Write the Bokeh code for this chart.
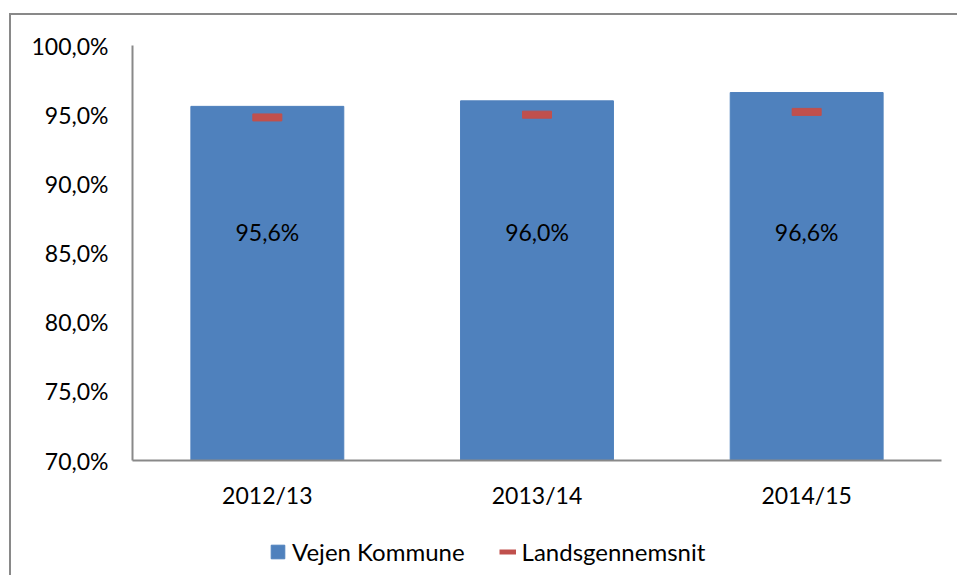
from bokeh.plotting import figure
from bokeh.layouts import column
from bokeh.models import (FactorRange, Range1d, Legend, LegendItem, FixedTicker,
                          ColumnDataSource)
from bokeh.core.properties import value
from bokeh.embed import file_html
from bokeh.resources import INLINE

# ---- data ----
categories = ["2012/13", "2013/14", "2014/15"]
vejen = [95.6, 96.0, 96.6]
lands = [94.8, 95.0, 95.2]
value_labels = ["95,6%", "96,0%", "96,6%"]
y_ticks = [70, 75, 80, 85, 90, 95, 100]
y_tick_labels = ["70,0%", "75,0%", "80,0%", "85,0%", "90,0%", "95,0%", "100,0%"]
series_names = ["Vejen Kommune", "Landsgennemsnit"]

FONT = "Lato"
BLUE = "#4F81BD"
RED = "#C0504D"
GRAY = "#898989"
LABEL_Y = 86.5
W = 946

src = ColumnDataSource(dict(cat=categories, vejen=vejen, lands=lands,
                            lab=value_labels, ly=[LABEL_Y] * len(categories)))

p = figure(x_range=FactorRange(*categories), y_range=Range1d(70, 100),
           width=W, height=510, output_backend="svg", toolbar_location=None,
           min_border_left=121, min_border_right=16, min_border_top=30,
           min_border_bottom=65)

p.vbar(x="cat", top="vejen", bottom=70, width=0.567, source=src,
       fill_color=BLUE, line_color=BLUE)
p.rect(x="cat", y="lands", width=29, height=7, width_units="screen",
       height_units="screen", source=src, fill_color=RED, line_color=RED)
p.text(x="cat", y="ly", text="lab", source=src, text_align="center",
       text_baseline="middle", text_font=value(FONT), text_font_size="23px",
       text_color="black")

p.outline_line_color = None
p.xgrid.grid_line_color = None
p.ygrid.grid_line_color = None

p.yaxis.ticker = FixedTicker(ticks=y_ticks)
p.yaxis.major_label_overrides = {t: l for t, l in zip(y_ticks, y_tick_labels)}
for ax in (p.xaxis, p.yaxis):
    ax.axis_line_color = GRAY
    ax.axis_line_width = 2
    ax.major_tick_line_color = None
    ax.minor_tick_line_color = None
    ax.major_tick_out = 0
    ax.major_tick_in = 0
    ax.major_label_text_font = FONT
    ax.major_label_text_font_size = "23px"
    ax.major_label_text_color = "black"
p.yaxis.major_label_standoff = 24
p.xaxis.major_label_standoff = 20

# ---- legend strip ----
lp = figure(width=W, height=50, x_range=Range1d(0, 1), y_range=Range1d(0, 1),
            output_backend="svg", toolbar_location=None,
            x_axis_location=None, y_axis_location=None,
            min_border=0, min_border_left=0, min_border_right=0,
            min_border_top=0, min_border_bottom=0)
lp.outline_line_color = None
lp.xgrid.grid_line_color = None
lp.ygrid.grid_line_color = None
nan = float("nan")
bar_proxy = lp.vbar(x=[0.5], top=[nan], width=0.1, fill_color=BLUE, line_color=BLUE)
dash_proxy = lp.line(x=[0.5], y=[nan], line_color=RED, line_width=5)
legend = Legend(items=[LegendItem(label=series_names[0], renderers=[bar_proxy]),
                       LegendItem(label=series_names[1], renderers=[dash_proxy])],
                orientation="horizontal", location=(137, 9),
                label_text_font=FONT, label_text_font_size="24px",
                label_text_color="black",
                glyph_width=17, glyph_height=17, label_standoff=6, spacing=34,
                border_line_color=None, background_fill_alpha=0, margin=0,
                padding=4)
lp.add_layout(legend, "center")

layout = column(p, lp, spacing=0)
layout.margin = (13, 0, 0, 9)
layout.styles = {"border-left": f"2px solid {GRAY}", "border-top": f"2px solid {GRAY}"}

open("out.html", "w").write(file_html(layout, INLINE))
